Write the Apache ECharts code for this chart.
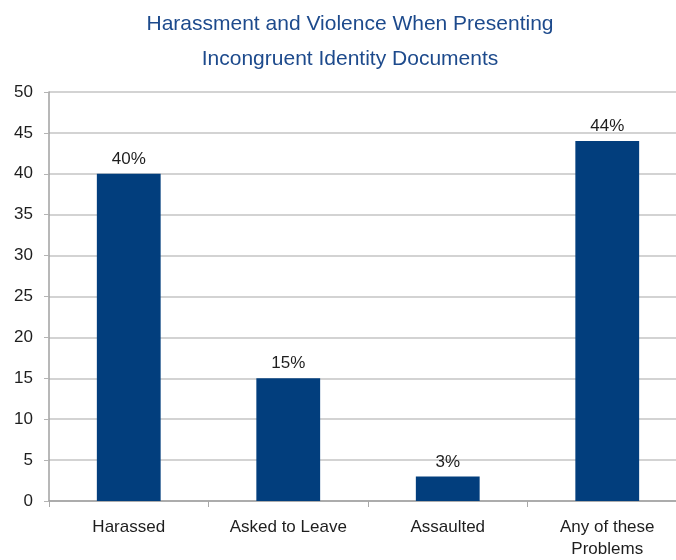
<!DOCTYPE html>
<html><head><meta charset="utf-8">
<script src="https://cdn.jsdelivr.net/npm/echarts@6/dist/echarts.min.js"></script>
<style>html,body{margin:0;padding:0;background:#fff;overflow:hidden;width:676px;height:560px}#c{width:690px;height:560px}</style>
</head><body><div id="c"></div>
<script>
const titleText = 'Harassment and Violence When Presenting\nIncongruent Identity Documents';
const categories = ['Harassed', 'Asked to Leave', 'Assaulted', 'Any of these\nProblems'];
const values = [40, 15, 3, 44];
const yTicks = [0, 5, 10, 15, 20, 25, 30, 35, 40, 45, 50];

const FONT = '"Liberation Sans Narrow", "Arial Narrow", "Liberation Sans", Arial, sans-serif';
const chart = echarts.init(document.getElementById('c'));
chart.setOption({
  animation: false,
  title: {
    text: titleText, left: 345, textAlign: 'center', top: 2,
    textStyle: { color: '#1d4a8c', fontFamily: FONT, fontWeight: 'normal', fontSize: 21, lineHeight: 35, align: 'center' }
  },
  grid: { left: 49, top: 92, width: 638, bottom: 56, containLabel: false },
  xAxis: {
    type: 'category', data: categories,
    axisLine: { lineStyle: { color: '#a0a0a0', width: 1.5 } },
    axisTick: { show: true, length: 6, lineStyle: { color: '#a8a8a8' } },
    axisLabel: { color: '#1e1e1e', fontFamily: FONT, fontSize: 17, margin: 15, lineHeight: 22 }
  },
  yAxis: {
    type: 'value', min: yTicks[0], max: yTicks[yTicks.length - 1], interval: 5,
    axisLine: { show: true, lineStyle: { color: '#a0a0a0', width: 1.5 } },
    axisTick: { show: true, length: 5, lineStyle: { color: '#b4b4b4' } },
    splitLine: { lineStyle: { color: '#c4c4c4', width: 1.5 } },
    axisLabel: { color: '#1e1e1e', fontFamily: FONT, fontSize: 17, margin: 16 }
  },
  series: [{
    type: 'bar', data: values, barWidth: '40%',
    itemStyle: { color: '#023e7d' },
    label: { show: true, position: 'top', formatter: '{c}%', color: '#1e1e1e', fontFamily: FONT, fontSize: 17, distance: 6 }
  }]
});
</script></body></html>
